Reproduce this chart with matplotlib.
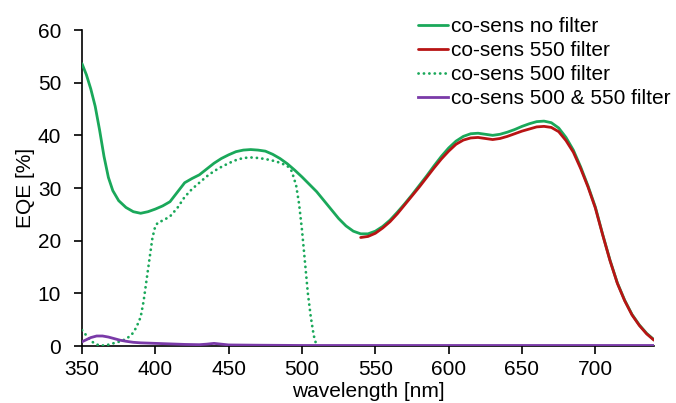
import matplotlib
matplotlib.use("Agg")
import matplotlib.pyplot as plt

plt.rcParams['font.family'] = ['Liberation Sans', 'DejaVu Sans']

# EQE spectra (wavelength in nm, EQE in %)
wl_nofilter = [350, 353, 356, 359, 362, 365, 368, 371, 375, 380, 385, 390, 395, 400,
               405, 410, 415, 420, 425, 430, 435, 440, 445, 450, 455, 460, 465, 470,
               475, 480, 485, 490, 495, 500, 505, 510, 515, 520, 525, 530, 535, 540,
               545, 550, 555, 560, 565, 570, 575, 580, 585, 590, 595, 600, 605, 610,
               615, 620, 625, 630, 635, 640, 645, 650, 655, 660, 665, 670, 675, 680,
               685, 690, 695, 700, 705, 710, 715, 720, 725, 730, 735, 740]
eqe_nofilter = [53.6, 51.5, 48.8, 45.5, 41.0, 36.0, 32.0, 29.5, 27.6, 26.3, 25.5, 25.2,
                25.5, 26.0, 26.6, 27.4, 29.2, 31.0, 31.8, 32.5, 33.6, 34.7, 35.6, 36.3,
                36.9, 37.2, 37.3, 37.2, 37.0, 36.4, 35.6, 34.6, 33.4, 32.1, 30.7, 29.3,
                27.6, 25.9, 24.2, 22.8, 21.8, 21.3, 21.3, 21.8, 22.7, 23.9, 25.4, 27.0,
                28.7, 30.5, 32.3, 34.2, 36.0, 37.6, 38.9, 39.8, 40.3, 40.4, 40.2, 40.0,
                40.2, 40.6, 41.1, 41.7, 42.2, 42.6, 42.7, 42.4, 41.4, 39.6, 37.2, 34.0,
                30.4, 26.4, 21.2, 16.3, 12.0, 8.7, 6.0, 4.0, 2.4, 1.2]

wl_550 = [540, 545, 550, 555, 560, 565, 570, 575, 580, 585, 590, 595, 600, 605, 610,
          615, 620, 625, 630, 635, 640, 645, 650, 655, 660, 665, 670, 675, 680, 685,
          690, 695, 700, 705, 710, 715, 720, 725, 730, 735, 740]
eqe_550 = [20.6, 20.8, 21.4, 22.4, 23.6, 25.1, 26.8, 28.5, 30.2, 32.0, 33.8, 35.5,
           37.0, 38.3, 39.1, 39.5, 39.6, 39.4, 39.2, 39.4, 39.8, 40.3, 40.8, 41.2,
           41.6, 41.7, 41.5, 40.7, 39.0, 36.8, 33.7, 30.2, 26.2, 21.1, 16.2, 11.9,
           8.6, 5.9, 3.9, 2.3, 1.1]

wl_500 = [350, 353, 356, 359, 362, 366, 370, 375, 380, 384, 387, 390, 392, 394, 396,
          398, 400, 402, 405, 410, 415, 420, 425, 430, 435, 440, 445, 450, 455, 460,
          465, 470, 475, 480, 485, 490, 493, 496, 498, 500, 502, 504, 506, 508, 510]
eqe_500 = [3.0, 2.0, 1.0, 0.4, 0.1, 0.1, 0.4, 0.8, 1.3, 2.2, 3.5, 5.5, 8.5, 12.5, 16.5,
           20.5, 22.8, 23.5, 23.8, 24.6, 26.2, 28.3, 29.8, 31.0, 32.2, 33.2, 34.0, 34.7,
           35.3, 35.7, 35.8, 35.7, 35.5, 35.2, 34.8, 34.2, 33.2, 30.5, 27.0, 22.0, 16.0,
           10.0, 5.5, 2.0, 0.0]

wl_both = [350, 353, 356, 360, 364, 368, 372, 376, 380, 385, 390, 400, 410, 420, 430,
           435, 440, 445, 450, 470, 500, 550, 600, 650, 700, 740]
eqe_both = [0.8, 1.2, 1.6, 1.9, 1.9, 1.7, 1.4, 1.1, 0.9, 0.7, 0.6, 0.5, 0.4, 0.3, 0.25,
            0.35, 0.5, 0.35, 0.2, 0.15, 0.1, 0.1, 0.1, 0.1, 0.1, 0.1]

labels = ["co-sens no filter", "co-sens 550 filter", "co-sens 500 filter",
          "co-sens 500 & 550 filter"]
colors = ["#1aa85a", "#b81414", "#1aa85a", "#7a3aa8"]

x_ticks = [350, 400, 450, 500, 550, 600, 650, 700]
y_ticks = [0, 10, 20, 30, 40, 50, 60]

W, H = 676, 403
fig = plt.figure(figsize=(W / 100, H / 100), dpi=100)
ax = fig.add_axes([82 / W, 1 - 346 / H, (654 - 82) / W, (346 - 30) / H])

lw = 2.0
ax.plot(wl_nofilter, eqe_nofilter, color=colors[0], lw=lw, label=labels[0],
        solid_capstyle='round', zorder=3)
ax.plot(wl_550, eqe_550, color=colors[1], lw=lw, label=labels[1],
        solid_capstyle='round', zorder=4)
ax.plot(wl_500, eqe_500, color=colors[2], lw=lw, linestyle=(0, (0.05, 1.9)),
        dash_capstyle='round', label=labels[2], zorder=3)
ax.plot(wl_both, eqe_both, color=colors[3], lw=lw, label=labels[3], zorder=5)

ax.set_xlim(350, 740)
ax.set_ylim(0, 60)
ax.set_xticks(x_ticks)
ax.set_yticks(y_ticks)

for side in ("top", "right"):
    ax.spines[side].set_visible(False)
for side in ("left", "bottom"):
    ax.spines[side].set_linewidth(1.2)
    ax.spines[side].set_color("black")
    ax.spines[side].set_zorder(1)

ax.tick_params(axis='both', direction='out', length=6, width=1.2, labelsize=15,
               colors='black')
ax.tick_params(axis='x', pad=4)
ax.tick_params(axis='y', pad=9)

ax.set_xlabel("wavelength [nm]", fontsize=15, labelpad=2.5)
ax.set_ylabel("EQE [%]", fontsize=15, labelpad=2)

leg = fig.legend(loc='upper left', bbox_to_anchor=(418 / W, 1 - 17 / H), frameon=False,
                 fontsize=15, handlelength=1.45, handletextpad=0.12, labelspacing=0.24,
                 borderpad=0, borderaxespad=0)
for h in leg.get_lines():
    h.set_linewidth(2.0)

fig.savefig("out.png", dpi=100)
